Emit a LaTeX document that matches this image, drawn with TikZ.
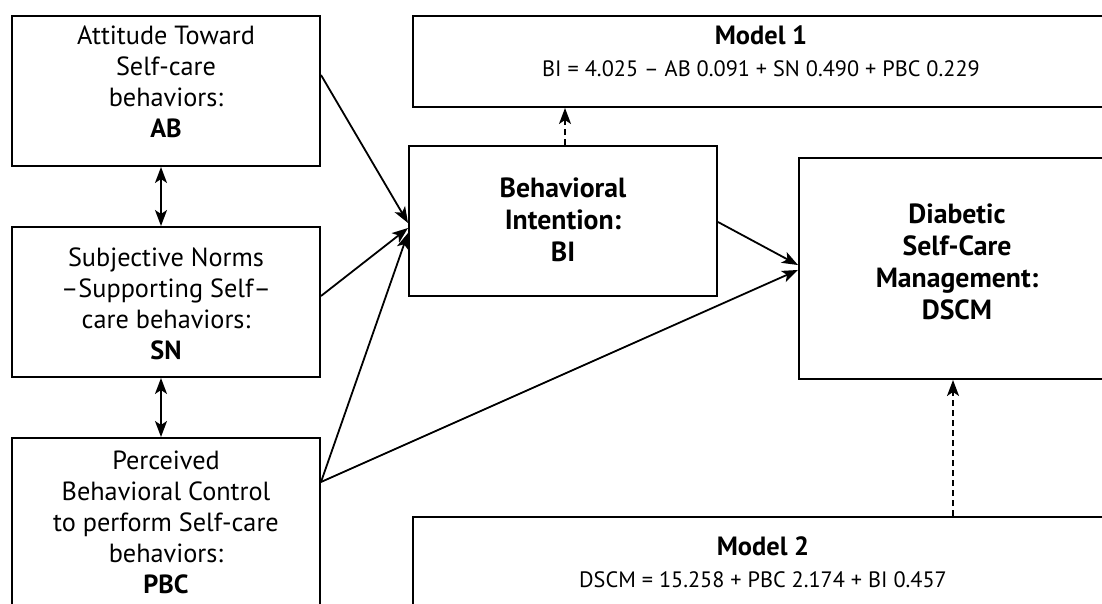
\documentclass[tikz,border=0pt]{standalone}
\usepackage{fontspec}
\setmainfont{PT Sans}
\usetikzlibrary{arrows.meta,calc}
\begin{document}
\begin{tikzpicture}[x=0.75pt,y=-0.75pt,
  box/.style={draw=black,line width=1.5pt,rectangle,inner sep=0pt},
  lbl/.style={align=center,inner sep=0pt,font=\fontsize{19.7pt}{23.25pt}\selectfont},
  blbl/.style={align=center,inner sep=0pt,font=\fontsize{20.8pt}{24pt}\selectfont\bfseries},
  mlbl/.style={align=center,inner sep=0pt,font=\fontsize{16.7pt}{24pt}\selectfont},
  tip/.style={},
  arr/.style={line width=1.35pt,-{Stealth[length=12pt,width=9pt,inset=3pt]}},
  darr/.style={arr,dash pattern=on 4.5pt off 3pt},
  dbl/.style={line width=1.35pt,{Stealth[length=12pt,width=9pt,inset=3pt]}-{Stealth[length=12pt,width=9pt,inset=3pt]}}]
\clip (0,0) rectangle (1102,603);
\fill[white] (0,0) rectangle (1102,603);
% boxes
\node[box,minimum width=231pt,minimum height=112.5pt] (AB) at (166,91) {};
\node[box,minimum width=231pt,minimum height=112.5pt] (SN) at (166,302) {};
\node[box,minimum width=231pt,minimum height=144pt] (PBC) at (166,534) {};
\node[box,minimum width=231pt,minimum height=112.5pt] (BI) at (563,221) {};
\node[box,minimum width=522.75pt,minimum height=68.25pt] (M1) at (761.5,61.5) {};
\node[box,minimum width=237pt,minimum height=165.75pt] (DSCM) at (957,268.5) {};
\node[box,minimum width=525pt,minimum height=77.25pt] (M2) at (763,568.5) {};
% texts
\node[lbl] (tAB) at (166,82) {Attitude Toward\\Self-care\\behaviors:\\\textbf{AB}};
\node[lbl] (tSN) at (166,304) {Subjective Norms\\–Supporting Self–\\care behaviors:\\\textbf{SN}};
\node[lbl] (tPBC) at (166,522) {Perceived\\Behavioral Control\\to perform Self-care\\behaviors:\\\textbf{PBC}};
\node[blbl] (tBI) at (563,220) {Behavioral\\Intention:\\BI};
\node[blbl] (tDSCM) at (957,262) {Diabetic\\Self-Care\\Management:\\DSCM};
\node[mlbl] (tM1) at (761,51.5) {\fontsize{19.8pt}{24pt}\selectfont\bfseries Model 1\\BI = 4.025 – AB 0.091 + SN 0.490 + PBC 0.229};
\node[mlbl] (tM2) at (763,562.5) {\fontsize{19.8pt}{24pt}\selectfont\bfseries Model 2\\DSCM = 15.258 + PBC 2.174 + BI 0.457};
% connectors
\draw[dbl] ([xshift=-3.75pt]AB.south) -- ([xshift=-3.75pt]SN.north);
\draw[dbl] ([xshift=-3.75pt]SN.south) -- ([xshift=-3.75pt]PBC.north);
\draw[arr] ([yshift=12pt]AB.east) -- ([yshift=-1.5pt]BI.west);
\draw[arr] ([yshift=4.5pt]SN.east) -- ([yshift=-5.25pt]BI.west);
\draw[arr] ([yshift=-33.75pt]PBC.north east) -- ([yshift=-9pt]BI.west);
\draw[arr] ([yshift=-33.75pt]PBC.north east) -- ([yshift=-1.1pt]DSCM.west);
\draw[arr] ([yshift=-0.75pt]BI.east) -- ([yshift=2.6pt]DSCM.west);
\draw[darr] ([xshift=1.5pt]BI.north) -- ([xshift=1.5pt]BI.north |- M1.south);
\draw[darr] ([xshift=-3pt]DSCM.south |- M2.north) -- ([xshift=-3pt]DSCM.south);
\end{tikzpicture}
\end{document}
